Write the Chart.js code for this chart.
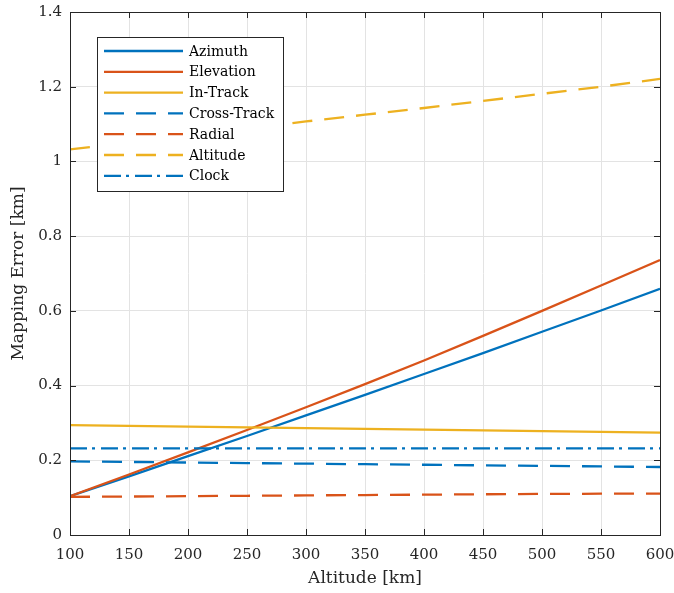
<!DOCTYPE html>
<html>
<head>
<meta charset="utf-8">
<script src="https://cdn.jsdelivr.net/npm/chart.js@4.4.0/dist/chart.umd.min.js"></script>
<style>
  html, body { margin: 0; padding: 0; background: #fff; }
</style>
</head>
<body>
<canvas id="chart" width="674" height="593"></canvas>
<script>
// values, one per 50 km
var altitudes   = [100, 150, 200, 250, 300, 350, 400, 450, 500, 550, 600];
var azimuth     = [0.104, 0.157, 0.211, 0.265, 0.320, 0.375, 0.431, 0.487, 0.544, 0.601, 0.659];
var elevation   = [0.104, 0.162, 0.221, 0.281, 0.342, 0.404, 0.467, 0.533, 0.600, 0.668, 0.736];
var inTrack     = [0.294, 0.292, 0.290, 0.288, 0.286, 0.284, 0.282, 0.280, 0.278, 0.276, 0.274];
var crossTrack  = [0.197, 0.1955, 0.194, 0.1925, 0.191, 0.1895, 0.188, 0.1865, 0.185, 0.1835, 0.182];
var radial      = [0.102, 0.103, 0.104, 0.105, 0.106, 0.107, 0.108, 0.109, 0.110, 0.1105, 0.111];
var altitudeErr = [1.032, 1.050, 1.069, 1.088, 1.107, 1.125, 1.143, 1.162, 1.181, 1.200, 1.221];
var clock       = [0.232, 0.232, 0.232, 0.232, 0.232, 0.232, 0.232, 0.232, 0.232, 0.232, 0.232];

var yTicks = [0, 0.2, 0.4, 0.6, 0.8, 1, 1.2, 1.4];

var BLUE = '#0072BD', ORANGE = '#D95319', YELLOW = '#EDB120';
var DASH = [20, 12], DASHDOT = [17, 5, 3, 6];
var SERIF = '"DejaVu Serif", "Liberation Serif", serif';

function pts(ys) {
  var out = [];
  for (var i = 0; i < altitudes.length; i++) out.push({x: altitudes[i], y: ys[i]});
  return out;
}

var series = [
  {label: 'Azimuth',     data: azimuth,     color: BLUE,   dash: []},
  {label: 'Elevation',   data: elevation,   color: ORANGE, dash: []},
  {label: 'In-Track',    data: inTrack,     color: YELLOW, dash: []},
  {label: 'Cross-Track', data: crossTrack,  color: BLUE,   dash: DASH},
  {label: 'Radial',      data: radial,      color: ORANGE, dash: DASH},
  {label: 'Altitude',    data: altitudeErr, color: YELLOW, dash: DASH},
  {label: 'Clock',       data: clock,       color: BLUE,   dash: DASHDOT}
];

var datasets = [];
for (var i = 0; i < series.length; i++) {
  datasets.push({
    label: series[i].label,
    data: pts(series[i].data),
    borderColor: series[i].color,
    backgroundColor: series[i].color,
    borderWidth: 2.3,
    borderDash: series[i].dash,
    pointRadius: 0,
    fill: false,
    tension: 0,
    order: series.length - i   // later series on top, like matlab
  });
}

// box + inward ticks on all four sides
var frame = {
  id: 'frame',
  afterDatasetsDraw: function (chart) {
    var a = chart.chartArea, ctx = chart.ctx;
    var xs = chart.scales.x, ys = chart.scales.y;
    var L = 6;
    ctx.save();
    ctx.strokeStyle = '#262626';
    ctx.lineWidth = 1;
    ctx.setLineDash([]);
    ctx.beginPath();
    for (var v = 100; v <= 600; v += 50) {
      var px = Math.round(xs.getPixelForValue(v)) + 0.5;
      ctx.moveTo(px, a.bottom); ctx.lineTo(px, a.bottom - L);
      ctx.moveTo(px, a.top); ctx.lineTo(px, a.top + L);
    }
    for (var j = 0; j < yTicks.length; j++) {
      var py = Math.round(ys.getPixelForValue(yTicks[j])) + 0.5;
      ctx.moveTo(a.left, py); ctx.lineTo(a.left + L, py);
      ctx.moveTo(a.right, py); ctx.lineTo(a.right - L, py);
    }
    ctx.stroke();
    ctx.strokeRect(Math.round(a.left) + 0.5, Math.round(a.top) + 0.5,
                   Math.round(a.right - a.left), Math.round(a.bottom - a.top));
    ctx.restore();
  }
};

// legend box in the top-left corner of the axes
var boxLegend = {
  id: 'boxLegend',
  afterDraw: function (chart) {
    var ctx = chart.ctx;
    var x0 = 97, y0 = 37, w = 186, h = 154, row = 20.8;
    ctx.save();
    ctx.fillStyle = '#fff';
    ctx.fillRect(x0, y0, w, h);
    ctx.strokeStyle = '#262626';
    ctx.lineWidth = 1;
    ctx.strokeRect(x0 + 0.5, y0 + 0.5, w, h);
    ctx.font = '14px ' + SERIF;
    ctx.textBaseline = 'middle';
    var ds = chart.data.datasets;
    for (var i = 0; i < ds.length; i++) {
      var cy = 51 + i * row;
      ctx.strokeStyle = ds[i].borderColor;
      ctx.lineWidth = ds[i].borderWidth;
      ctx.setLineDash(ds[i].borderDash);
      ctx.beginPath();
      ctx.moveTo(104, cy); ctx.lineTo(183, cy);
      ctx.stroke();
      ctx.setLineDash([]);
      ctx.fillStyle = '#000';
      ctx.fillText(ds[i].label, 189, cy + 1);
    }
    ctx.restore();
  }
};

new Chart(document.getElementById('chart').getContext('2d'), {
  type: 'line',
  data: {datasets: datasets},
  plugins: [frame, boxLegend],
  options: {
    responsive: false,
    animation: false,
    devicePixelRatio: 1,
    layout: {padding: {top: 12, right: 14, left: 0, bottom: 0}},
    plugins: {legend: {display: false}, tooltip: {enabled: false}},
    scales: {
      x: {
        type: 'linear', min: 100, max: 600,
        afterFit: function (s) { s.height = 58; s.paddingLeft = 0; s.paddingRight = 0; },
        grid: {color: '#e3e3e3', drawTicks: false},
        border: {display: false},
        ticks: {stepSize: 50, padding: 11, color: '#262626', font: {family: SERIF, size: 15}, maxRotation: 0},
        title: {display: true, text: 'Altitude [km]', color: '#262626', font: {family: SERIF, size: 17}, padding: {top: 2}}
      },
      y: {
        type: 'linear', min: 0, max: 1.4,
        afterFit: function (s) { s.width = 70; s.paddingTop = 0; s.paddingBottom = 0; },
        afterBuildTicks: function (s) { s.ticks = yTicks.map(function (v) { return {value: v}; }); },
        grid: {color: '#e3e3e3', drawTicks: false},
        border: {display: false},
        ticks: {padding: 8, color: '#262626', font: {family: SERIF, size: 15},
                callback: function (v) { return String(Number(v.toFixed(1))); }},
        title: {display: true, text: 'Mapping Error [km]', color: '#262626', font: {family: SERIF, size: 17}, padding: {bottom: 0, top: 8}}
      }
    }
  }
});
</script>
</body>
</html>
